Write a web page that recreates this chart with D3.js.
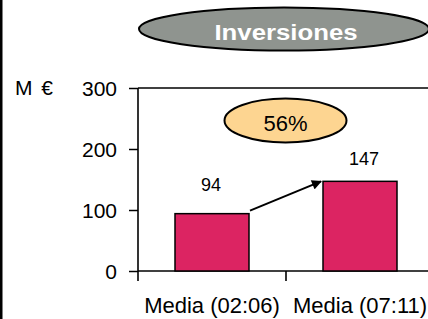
<!DOCTYPE html>
<html>
<head>
<meta charset="utf-8">
<script src="https://cdn.jsdelivr.net/npm/d3@7"></script>
<style>
  html, body { margin: 0; padding: 0; background: #fff; }
  svg { display: block; font-family: Arial, 'Liberation Sans', sans-serif; }
</style>
</head>
<body>
<svg id="chart" width="428" height="319"></svg>
<script>
const categories = ['Media (02:06)', 'Media (07:11)'];
const values = [94, 147];
const yTicks = [0, 100, 200, 300];
const titleText = 'Inversiones';
const unitText = 'M €';
const growthText = '56%';

const width = 428;
const height = 319;
const barColor = '#dc2462';
const labelNudge = [-1, 4]; // value labels are not quite centred in the original
const labelLift = [23, 16];

const svg = d3.select('#chart');

const x = d3.scaleBand()
  .domain(categories)
  .range([138, 434])
  .paddingInner(0.5)
  .paddingOuter(0.25);

const y = d3.scaleLinear()
  .domain([0, 300])
  .range([271, 88]);

// left frame edge
svg.append('line')
  .attr('x1', 1.25).attr('x2', 1.25)
  .attr('y1', 0).attr('y2', height)
  .attr('stroke', '#000')
  .attr('stroke-width', 2.5);

// title bubble
const title = svg.append('g');
title.append('ellipse')
  .attr('cx', 284).attr('cy', 29)
  .attr('rx', 145).attr('ry', 21.5)
  .attr('fill', '#8f948f')
  .attr('stroke', '#000')
  .attr('stroke-width', 2);
title.append('text')
  .attr('transform', 'translate(286, 39.5) scale(1.12, 1)')
  .attr('text-anchor', 'middle')
  .attr('fill', '#fff')
  .attr('font-weight', 'bold')
  .attr('font-size', 23)
  .text(titleText);

// y axis
const yAxis = d3.axisLeft(y)
  .tickValues(yTicks)
  .tickSize(9)
  .tickSizeOuter(0)
  .tickPadding(12);

const gy = svg.append('g')
  .attr('transform', `translate(${x.range()[0]}, 0)`)
  .call(yAxis);
gy.select('.domain').remove();
gy.selectAll('.tick line').attr('stroke', '#000').attr('stroke-width', 1.5);
gy.selectAll('.tick text')
  .attr('font-size', 21)
  .attr('fill', '#000')
  .attr('dy', '0.36em');

svg.append('text')
  .attr('x', 15).attr('y', 94.5)
  .attr('font-size', 21)
  .attr('word-spacing', 3)
  .attr('fill', '#000')
  .text(unitText);

// plot frame: left, top and bottom lines
const [x0, x1] = x.range();
svg.append('line')
  .attr('x1', x0).attr('x2', x0)
  .attr('y1', y(300)).attr('y2', y(0) + 10)
  .attr('stroke', '#000').attr('stroke-width', 1.6);
svg.append('line')
  .attr('x1', x0).attr('x2', x1)
  .attr('y1', y(300)).attr('y2', y(300))
  .attr('stroke', '#000').attr('stroke-width', 1.6);
svg.append('line')
  .attr('x1', x0).attr('x2', x1)
  .attr('y1', y(0)).attr('y2', y(0))
  .attr('stroke', '#000').attr('stroke-width', 1.6);

// category separators below the axis
svg.selectAll('.sep')
  .data(categories.slice(1))
  .enter()
  .append('line')
  .attr('class', 'sep')
  .attr('x1', d => x(d) - x.step() * x.paddingInner() / 2)
  .attr('x2', d => x(d) - x.step() * x.paddingInner() / 2)
  .attr('y1', y(0)).attr('y2', y(0) + 10)
  .attr('stroke', '#000').attr('stroke-width', 1.6);

// x axis labels
const xAxis = d3.axisBottom(x).tickSize(0).tickPadding(26);
const gx = svg.append('g')
  .attr('transform', `translate(0, ${y(0)})`)
  .call(xAxis);
gx.select('.domain').remove();
gx.selectAll('.tick text')
  .attr('font-size', 22)
  .attr('fill', '#000');

// bars
svg.selectAll('.bar')
  .data(values)
  .enter()
  .append('rect')
  .attr('class', 'bar')
  .attr('x', (d, i) => x(categories[i]))
  .attr('y', d => y(d))
  .attr('width', x.bandwidth())
  .attr('height', d => y(0) - y(d))
  .attr('fill', barColor)
  .attr('stroke', '#000')
  .attr('stroke-width', 1.5);

svg.selectAll('.value')
  .data(values)
  .enter()
  .append('text')
  .attr('class', 'value')
  .attr('x', (d, i) => x(categories[i]) + x.bandwidth() / 2 + labelNudge[i])
  .attr('y', (d, i) => y(d) - labelLift[i])
  .attr('text-anchor', 'middle')
  .attr('font-size', 18)
  .attr('fill', '#000')
  .text(d => d);

// growth arrow
svg.append('defs')
  .append('marker')
  .attr('id', 'head')
  .attr('viewBox', '0 0 10 10')
  .attr('refX', 9).attr('refY', 5)
  .attr('markerWidth', 6).attr('markerHeight', 5)
  .attr('markerUnits', 'strokeWidth')
  .attr('orient', 'auto')
  .append('path')
  .attr('d', 'M0,0 L10,5 L0,10 Z')
  .attr('fill', '#000');

svg.append('line')
  .attr('x1', x(categories[0]) + x.bandwidth() + 1)
  .attr('y1', y(values[0]) - 3)
  .attr('x2', x(categories[1]) - 2)
  .attr('y2', y(values[1]))
  .attr('stroke', '#000')
  .attr('stroke-width', 2)
  .attr('marker-end', 'url(#head)');

// growth bubble
const bubbleX = x(categories[1]) - x.step() * x.paddingInner() / 2;
const growth = svg.append('g');
growth.append('ellipse')
  .attr('cx', bubbleX - 0.5).attr('cy', 120.5)
  .attr('rx', 61).attr('ry', 22)
  .attr('fill', '#fdd591')
  .attr('stroke', '#000')
  .attr('stroke-width', 2);
growth.append('text')
  .attr('x', bubbleX - 0.5).attr('y', 130.5)
  .attr('text-anchor', 'middle')
  .attr('font-size', 22)
  .attr('fill', '#000')
  .text(growthText);
</script>
</body>
</html>
